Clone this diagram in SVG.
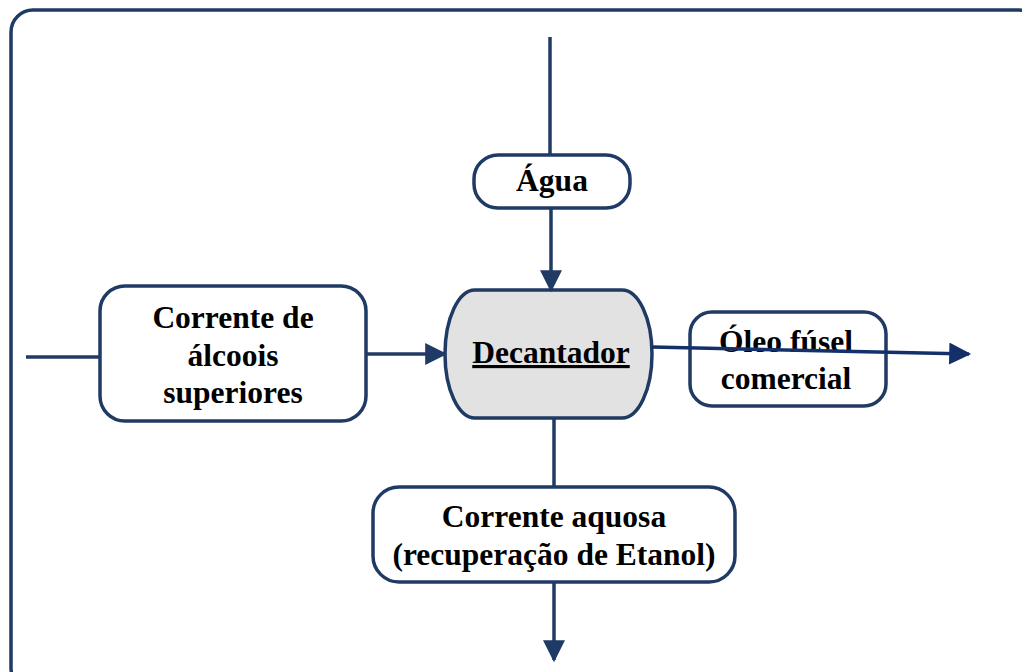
<svg xmlns="http://www.w3.org/2000/svg" width="1022" height="672" viewBox="0 0 1022 672">
<defs>
<style>
.b{fill:#fff;stroke:#1f3a64;stroke-width:3.5}
.c{stroke:#1f3a64;stroke-width:3.5;fill:none}
.t{font-family:"Liberation Serif","Times New Roman",serif;font-weight:bold;font-size:31.5px;fill:#000;text-anchor:middle}
</style>
<marker id="a2" viewBox="0 0 10 10" refX="9" refY="5" markerWidth="24" markerHeight="22" orient="auto" markerUnits="userSpaceOnUse">
<path d="M0,0 L10,5 L0,10 Z" fill="#1f3a64"/>
</marker>
<marker id="a3" viewBox="0 0 10 10" refX="9" refY="5" markerWidth="24" markerHeight="22" orient="auto" markerUnits="userSpaceOnUse">
<path d="M0,0 L10,5 L0,10 Z" fill="#13306a"/>
</marker>
</defs>
<rect x="11" y="10" width="1030" height="680" rx="22" fill="none" stroke="#1f3a64" stroke-width="3.5"/>
<g id="agua">
<rect class="b" x="474" y="155" width="156" height="53" rx="24"/>
<text class="t" x="552" y="191">Água</text>
</g>
<g id="decantador">
<path d="M475,290 H622 A30,64 0 0 1 622,418 H475 A30,64 0 0 1 475,290 Z" fill="#e2e2e2" stroke="#1f3a64" stroke-width="3.5"/>
<text class="t" x="551" y="363" text-decoration="underline">Decantador</text>
</g>
<g id="corrente-alcoois">
<rect class="b" x="100" y="286" width="266" height="135" rx="25"/>
<text class="t" x="233" y="328">Corrente de</text>
<text class="t" x="233" y="366">álcoois</text>
<text class="t" x="233" y="403">superiores</text>
</g>
<g id="oleo">
<rect class="b" x="690" y="312" width="196" height="94" rx="22"/>
<text class="t" x="786" y="352">Óleo fúsel</text>
<text class="t" x="786" y="389">comercial</text>
</g>
<g id="corrente-aquosa">
<rect class="b" x="373" y="487" width="362" height="95" rx="26"/>
<text class="t" x="554" y="527">Corrente aquosa</text>
<text class="t" x="554" y="565">(recuperação de Etanol)</text>
</g>
<g id="connectors">
<line class="c" x1="550" y1="37" x2="550" y2="155"/>
<line class="c" x1="551" y1="208" x2="551" y2="290" marker-end="url(#a2)"/>
<line class="c" x1="26" y1="357" x2="100" y2="357"/>
<line class="c" x1="367" y1="354" x2="445" y2="354" marker-end="url(#a2)"/>
<line x1="652" y1="347" x2="969" y2="354" stroke="#13306a" stroke-width="3.5" marker-end="url(#a3)"/>
<line class="c" x1="554" y1="419" x2="554" y2="487"/>
<line class="c" x1="554" y1="582" x2="554" y2="660" marker-end="url(#a2)"/>
</g>
</svg>
